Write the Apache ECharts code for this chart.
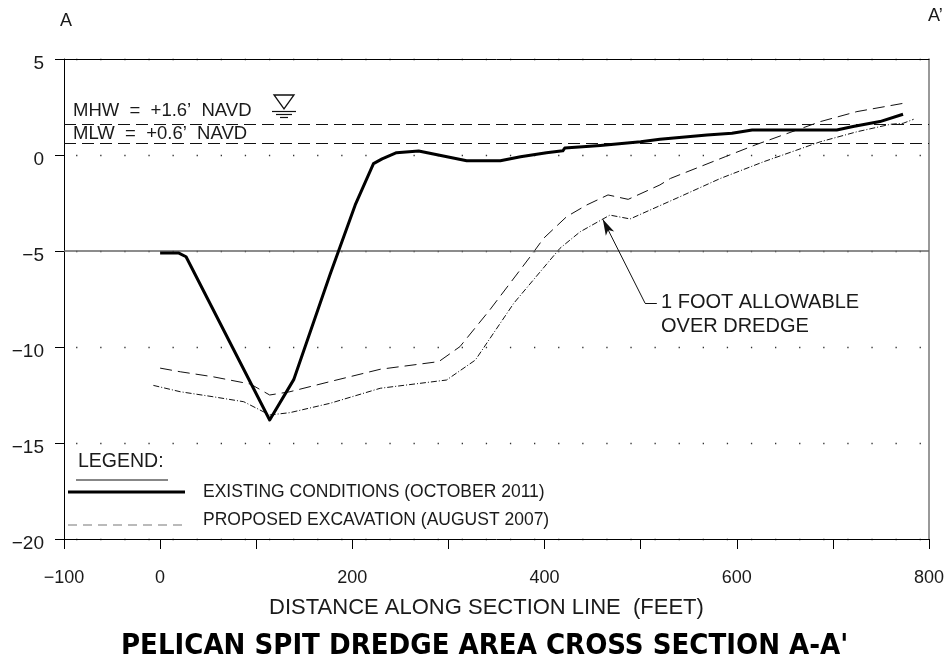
<!DOCTYPE html>
<html><head><meta charset="utf-8">
<script src="https://cdn.jsdelivr.net/npm/echarts@6/dist/echarts.min.js"></script>
<style>html,body{margin:0;padding:0;background:#fff}#c{width:948px;height:662px}</style>
</head><body><div id="c"></div>
<script>
// Existing conditions (October 2011): distance (ft), elevation (ft NAVD)
const existingX = [0, 19, 27, 114, 139, 177, 203, 222, 231, 246, 269, 319, 354, 375, 402, 419, 421, 458, 500, 520, 569, 595, 616, 704, 721, 749, 773];
const existingY = [-5.1, -5.1, -5.3, -13.8, -11.7, -6.2, -2.6, -0.45, -0.2, 0.12, 0.21, -0.3, -0.3, -0.09, 0.12, 0.22, 0.36, 0.5, 0.69, 0.82, 1.04, 1.13, 1.3, 1.3, 1.48, 1.74, 2.12];
// Proposed excavation (August 2007)
const proposedX = [0, 21, 55, 94, 114, 135, 177, 229, 290, 312, 343, 385, 399, 423, 444, 466, 487, 520, 531, 588, 619, 687, 725, 773];
const proposedY = [-11.1, -11.29, -11.55, -11.93, -12.5, -12.33, -11.8, -11.16, -10.76, -9.98, -8.07, -5.3, -4.34, -3.21, -2.6, -2.08, -2.31, -1.56, -1.22, -0.09, 0.52, 1.74, 2.26, 2.69];
// 1 foot allowable over dredge
const overX = [-7, 21, 55, 87, 114, 135, 177, 229, 298, 328, 368, 416, 437, 468, 489, 541, 583, 628, 687, 725, 760, 773, 784];
const overY = [-12.0, -12.33, -12.59, -12.85, -13.54, -13.42, -12.93, -12.15, -11.72, -10.68, -7.72, -4.86, -4.0, -3.13, -3.33, -2.17, -1.22, -0.35, 0.69, 1.21, 1.6, 1.65, 1.86];
// Reference levels
const mhw = 1.6, mlw = 0.6, refLine = -5;
// Annotation leader (data units): arrow tip, elbow, end
const leaderTip = [460.6, -3.35], leaderElbow = [504.6, -7.72], leaderEnd = [516.8, -7.72];
const xTickLabels = [-100, 0, 200, 400, 600, 800];
const yTickLabels = [5, 0, -5, -10, -15, -20];

const FONT = "'Liberation Sans','DejaVu Sans',sans-serif";
const NARROW = "'Liberation Sans Narrow','DejaVu Sans Condensed','Liberation Sans',sans-serif";
const zip = (a, b) => a.map((v, i) => [v, b[i]]);
const minus = v => String(v).replace('-', '\u2212');

const chart = echarts.init(document.getElementById('c'), null, {renderer: 'canvas'});
const txt = (text, x, y, size, opts) => Object.assign({
  type: 'text', z: 100,
  style: Object.assign({text, x, y, font: size + 'px ' + FONT, fill: '#1a1a1a', textAlign: 'left', textVerticalAlign: 'middle', align: 'left', verticalAlign: 'middle'}, opts || {})
});

chart.setOption({
  animation: false,
  backgroundColor: '#fff',
  grid: {left: 64, right: 19, top: 59, bottom: 123, containLabel: false},
  title: {
    text: "PELICAN SPIT DREDGE AREA CROSS SECTION A-A'",
    left: 116, top: 627,
    textStyle: {fontFamily: NARROW, fontWeight: 'bold', fontSize: 29, color: '#000'}
  },
  xAxis: [{
    type: 'value', min: -100, max: 800, interval: 100,
    name: 'DISTANCE ALONG SECTION LINE  (FEET)', nameLocation: 'middle', nameGap: 58,
    nameTextStyle: {fontFamily: FONT, fontSize: 22, color: '#1a1a1a', padding: [0, 20, 0, 0]},
    axisLine: {show: true, onZero: false, lineStyle: {color: '#000', width: 1}},
    axisTick: {show: true, inside: false, length: 10, lineStyle: {color: '#000'}},
    axisLabel: {margin: 30, fontFamily: FONT, fontSize: 18, color: '#1a1a1a',
      formatter: v => xTickLabels.includes(v) ? minus(v) : ''},
    splitLine: {show: false}
  }, {
    type: 'value', position: 'top', min: -100, max: 800,
    axisLine: {show: true, onZero: false, lineStyle: {color: '#000', width: 1}},
    axisTick: {show: false}, axisLabel: {show: false}, splitLine: {show: false}
  }],
  yAxis: [{
    type: 'value', min: -20, max: 5, interval: 5,
    axisLine: {show: true, onZero: false, lineStyle: {color: '#000', width: 1}},
    axisTick: {show: true, inside: false, length: 9, lineStyle: {color: '#000'}},
    axisLabel: {margin: 20, fontFamily: FONT, fontSize: 19, color: '#1a1a1a', verticalAlign: 'top', lineHeight: 10,
      formatter: v => yTickLabels.includes(v) ? minus(v) : ''},
    splitLine: {show: true, lineStyle: {color: '#333', width: 1.3, type: [1.3, 22.8], dashOffset: 12}}
  }, {
    type: 'value', position: 'right', min: -20, max: 5,
    axisLine: {show: true, onZero: false, lineStyle: {color: '#777', width: 1.5}},
    axisTick: {show: false}, axisLabel: {show: false}, splitLine: {show: false}
  }],
  series: [{
    name: 'EXISTING CONDITIONS (OCTOBER 2011)', type: 'line', data: zip(existingX, existingY),
    showSymbol: false, symbol: 'none', z: 5,
    lineStyle: {color: '#000', width: 3, join: 'round'},
    markLine: {
      silent: true, symbol: 'none', label: {show: false},
      data: [
        {yAxis: mhw, lineStyle: {color: '#111', width: 1.2, type: [12, 6]}},
        {yAxis: mlw, lineStyle: {color: '#111', width: 1.2, type: [12, 6]}},
        {yAxis: refLine, lineStyle: {color: '#666', width: 1.5, type: 'solid'}}
      ]
    }
  }, {
    name: 'PROPOSED EXCAVATION (AUGUST 2007)', type: 'line', data: zip(proposedX, proposedY),
    showSymbol: false, symbol: 'none', z: 4,
    lineStyle: {color: '#111', width: 1, type: [12, 6]}
  }, {
    name: '1 FOOT ALLOWABLE OVER DREDGE', type: 'line', data: zip(overX, overY),
    showSymbol: false, symbol: 'none', z: 4,
    lineStyle: {color: '#111', width: 1, type: [6, 2, 1, 2]},
    markLine: {
      silent: true, label: {show: false},
      data: [
        [{coord: leaderElbow, symbol: 'none'}, {coord: leaderTip, symbol: 'arrow', symbolSize: [7, 16]}],
        [{coord: leaderElbow, symbol: 'none'}, {coord: leaderEnd, symbol: 'none'}]
      ],
      lineStyle: {color: '#111', width: 1, type: 'solid'}
    }
  }],
  graphic: [
    txt('A', 60, 21, 18),
    txt('A\u2019', 928, 16, 18),
    txt("MHW  =  +1.6\u2019  NAVD", 73, 111, 18.5),
    txt("MLW  =  +0.6\u2019  NAVD", 73, 134, 18.5),
    // water level symbol
    {type: 'polygon', z: 100, shape: {points: [[274, 95], [294, 95], [284, 109]]}, style: {fill: 'none', stroke: '#111', lineWidth: 1.3}},
    {type: 'line', z: 100, shape: {x1: 272, y1: 111.5, x2: 296, y2: 111.5}, style: {stroke: '#111', lineWidth: 1.2}},
    {type: 'line', z: 100, shape: {x1: 276, y1: 114.5, x2: 292, y2: 114.5}, style: {stroke: '#111', lineWidth: 1.2}},
    {type: 'line', z: 100, shape: {x1: 280, y1: 117.5, x2: 288, y2: 117.5}, style: {stroke: '#111', lineWidth: 1.2}},
    // legend
    txt('LEGEND:', 78, 462, 19.5),
    {type: 'line', z: 100, shape: {x1: 76, y1: 480, x2: 168, y2: 480}, style: {stroke: '#111', lineWidth: 1.2}},
    {type: 'line', z: 100, shape: {x1: 68, y1: 492, x2: 185, y2: 492}, style: {stroke: '#000', lineWidth: 3}},
    txt('EXISTING CONDITIONS (OCTOBER 2011)', 203, 492, 17.5),
    {type: 'line', z: 100, shape: {x1: 68, y1: 525, x2: 185, y2: 525}, style: {stroke: '#777', lineWidth: 1.2, lineDash: [9, 6]}},
    txt('PROPOSED EXCAVATION (AUGUST 2007)', 203, 520, 17.5),
    // annotation
    txt('1 FOOT ALLOWABLE', 661, 302, 20),
    txt('OVER DREDGE', 661, 326, 20)
  ]
});
</script></body></html>
